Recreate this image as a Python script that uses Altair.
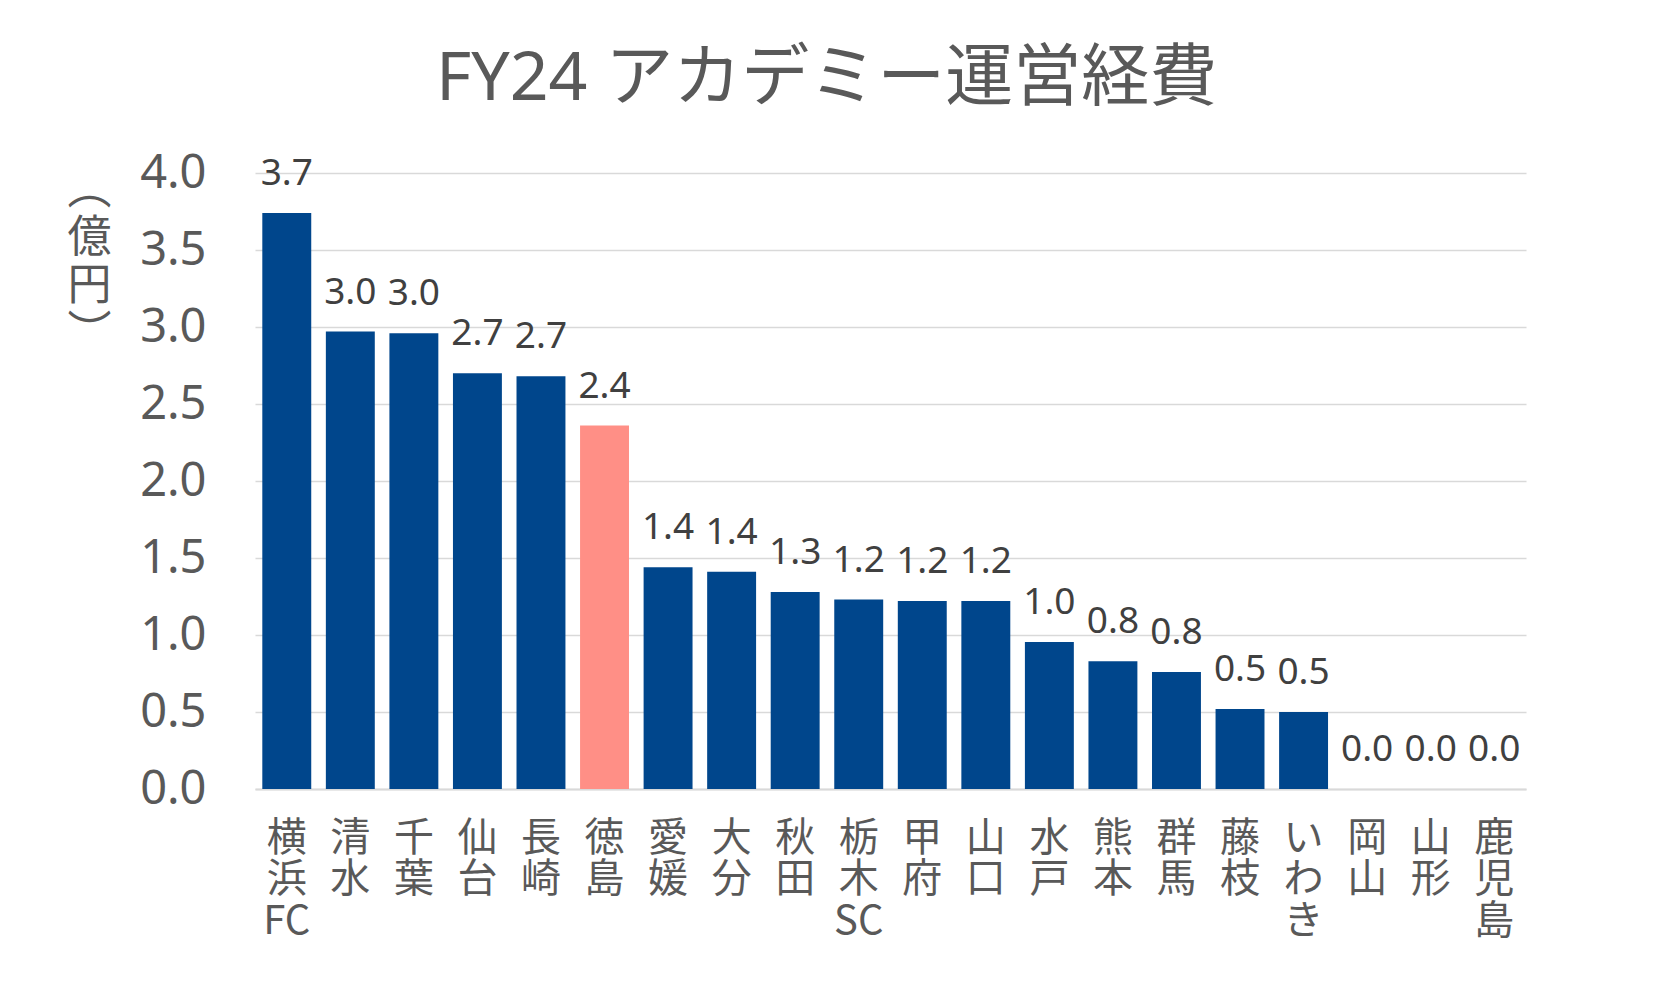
import altair as alt
import pandas as pd

teams = ["横浜FC", "清水", "千葉", "仙台", "長崎", "徳島", "愛媛", "大分", "秋田", "栃木SC",
         "甲府", "山口", "水戸", "熊本", "群馬", "藤枝", "いわき", "岡山", "山形", "鹿児島"]
costs = [3.74, 2.97, 2.96, 2.70, 2.68, 2.36, 1.44, 1.41, 1.28, 1.23,
         1.22, 1.22, 0.955, 0.83, 0.76, 0.52, 0.50, 0.0, 0.0, 0.0]
highlight_team = "徳島"
y_ticks = [0.0, 0.5, 1.0, 1.5, 2.0, 2.5, 3.0, 3.5, 4.0]
title_text = "FY24 アカデミー運営経費"
y_title = ["︵", "億", "円", "︶"]

FONT = "Noto Sans CJK JP"
NUM_FONT = "Noto Sans, Noto Sans CJK JP"
GREY_TEXT = "#595959"

df = pd.DataFrame({"team": teams, "cost": costs})

# vertical (stacked) labels; Latin runs kept on one line
label_expr = (
    "datum.label == '横浜FC' ? ['横', '浜', 'FC'] : "
    "datum.label == '栃木SC' ? ['栃', '木', 'SC'] : "
    "split(datum.label, '')"
)

base = alt.Chart(df).encode(
    x=alt.X(
        "team:N",
        sort=teams,
        scale=alt.Scale(paddingInner=0.23, paddingOuter=0.115),
        axis=alt.Axis(
            title=None,
            labelAngle=0,
            labelExpr=label_expr,
            labelFont=FONT,
            labelFontSize=40,
            labelLineHeight=41.5,
            labelColor=GREY_TEXT,
            labelBaseline="top",
            labelAlign="center",
            labelPadding=29,
            ticks=False,
            tickSize=0,
            domainColor="#d9d9d9",
            domainWidth=2,
            grid=False,
        ),
    ),
    y=alt.Y(
        "cost:Q",
        scale=alt.Scale(domain=[0, 4], nice=False),
        axis=alt.Axis(
            values=y_ticks,
            format=".1f",
            title=y_title,
            titleAngle=0,
            titleX=-166,
            titleY=17,
            titleBaseline="middle",
            titleAlign="center",
            titleFont=FONT,
            titleFontSize=44,
            titleLineHeight=48,
            titleFontWeight="normal",
            titleColor=GREY_TEXT,
            labelFont=NUM_FONT,
            labelFontSize=47,
            labelColor=GREY_TEXT,
            labelPadding=49,
            ticks=False,
            tickSize=0,
            domain=False,
            gridColor="#d9d9d9",
            gridWidth=1.5,
        ),
    ),
)

bars = base.mark_bar().encode(
    color=alt.condition(
        alt.datum.team == highlight_team, alt.value("#FF8F86"), alt.value("#00468C")
    )
)

labels = base.mark_text(
    baseline="alphabetic", dy=-28, fontSize=37, font=NUM_FONT, color="#404040"
).encode(text=alt.Text("cost:Q", format=".1f"))

chart = (
    (bars + labels)
    .properties(
        width=1271,
        height=616,
        title=alt.TitleParams(
            text=title_text,
            font=NUM_FONT,
            fontSize=68,
            fontWeight="normal",
            color=GREY_TEXT,
            anchor="middle",
            dx=-64,
            dy=66,
            baseline="alphabetic",
            offset=47,
        ),
        autosize=alt.AutoSizeParams(type="none"),
        padding={"left": 247, "top": 165, "right": 119, "bottom": 192},
    )
    .configure(background="white")
    .configure_view(stroke="transparent", strokeWidth=0)
)

chart.save("out.html", embed_options={"renderer": "svg", "actions": False})
